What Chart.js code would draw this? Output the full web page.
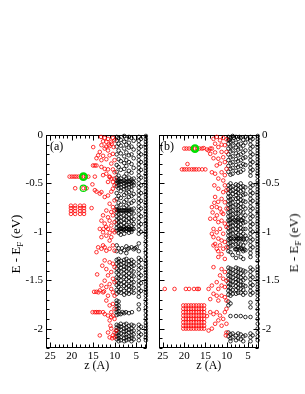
<!DOCTYPE html>
<html><head><meta charset="utf-8">
<script src="https://cdn.jsdelivr.net/npm/chart.js@4.4.1/dist/chart.umd.min.js"></script>
<style>
html,body{margin:0;padding:0;background:#fff;}
#wrap{position:relative;width:305px;height:394px;overflow:hidden;font-family:"Liberation Serif","Times New Roman",serif;color:#000;}
canvas{position:absolute;top:0;}
.yt{position:absolute;font-size:13px;line-height:14px;white-space:nowrap;transform:translate(-50%,-50%) rotate(-90deg);}
.yt sub{font-size:9px;vertical-align:-3px;line-height:0;}
.pl{position:absolute;font-size:12px;line-height:12px;}
</style></head><body>
<div id="wrap">
<canvas id="ca" width="153" height="394" style="left:0"></canvas>
<canvas id="cb" width="152" height="394" style="left:153px"></canvas>
<div class="yt" style="left:16px;top:244px">E - E<sub>F</sub> (eV)</div>
<div class="yt" style="left:294px;top:243px">E - E<sub>F</sub> (eV)</div>
<div class="pl" style="left:50px;top:140px">(a)</div>
<div class="pl" style="left:160px;top:140px">(b)</div>
</div>
<script>
// ---- tick labels ----
const xTickVals = [5, 10, 15, 20, 25];
const yTickVals = [0, -0.5, -1, -1.5, -2];
const yTickLabels = ['0', '-0.5', '-1', '-1.5', '-2'];

// ---- panel (a): black columns (layer z, energies) ----
const blackColZA = [9.55, 9.1, 8.6, 7.8, 7.3, 6.7, 6.1, 5.6, 4.4, 3.9, 2.75];
const blackColEA = [
 [-0.02,-0.06,-0.12,-0.2,-0.31,-0.38,-0.44,-0.47,-0.5,-0.53,-0.6,-0.66,-0.74,-0.77,-0.8,-0.84,-0.88,-0.92,-0.96,-0.99,-1.14,-1.2,-1.29,-1.33,-1.38,-1.42,-1.47,-1.51,-1.55,-1.6,-1.64,-1.71,-1.74,-1.77,-1.8,-1.83,-1.86,-1.96,-1.99,-2.02,-2.05,-2.08,-2.11],
 [-0.03,-0.09,-0.16,-0.25,-0.33,-0.42,-0.46,-0.49,-0.52,-0.55,-0.63,-0.7,-0.76,-0.78,-0.82,-0.86,-0.9,-0.94,-0.98,-1.01,-1.17,-1.28,-1.31,-1.35,-1.4,-1.44,-1.48,-1.53,-1.57,-1.62,-1.72,-1.76,-1.79,-1.82,-1.85,-1.97,-2.0,-2.04,-2.07,-2.1,-2.13],
 [-0.05,-0.11,-0.19,-0.27,-0.36,-0.45,-0.48,-0.51,-0.54,-0.58,-0.65,-0.72,-0.78,-0.81,-0.85,-0.89,-0.93,-0.97,-0.99,-1.03,-1.21,-1.3,-1.34,-1.37,-1.41,-1.46,-1.5,-1.54,-1.59,-1.63,-1.85,-1.95,-1.98,-2.01,-2.05,-2.09,-2.12],
 [-0.01,-0.07,-0.14,-0.22,-0.29,-0.35,-0.43,-0.47,-0.5,-0.53,-0.56,-0.62,-0.69,-0.75,-0.78,-0.83,-0.87,-0.91,-0.95,-0.98,-1.02,-1.19,-1.29,-1.32,-1.36,-1.39,-1.43,-1.47,-1.52,-1.56,-1.61,-1.65,-1.84,-1.96,-2.0,-2.03,-2.06,-2.1,-2.13],
 [-0.04,-0.1,-0.18,-0.26,-0.32,-0.4,-0.45,-0.49,-0.52,-0.55,-0.6,-0.67,-0.73,-0.78,-0.8,-0.84,-0.88,-0.93,-0.96,-0.99,-1.15,-1.22,-1.28,-1.33,-1.37,-1.41,-1.45,-1.49,-1.54,-1.58,-1.63,-1.95,-1.99,-2.02,-2.06,-2.09,-2.12],
 [-0.02,-0.08,-0.13,-0.21,-0.28,-0.37,-0.44,-0.48,-0.51,-0.54,-0.59,-0.64,-0.71,-0.76,-0.78,-0.82,-0.86,-0.9,-0.95,-0.98,-1.01,-1.17,-1.3,-1.34,-1.38,-1.43,-1.47,-1.51,-1.56,-1.6,-1.64,-1.84,-1.97,-2.01,-2.04,-2.08,-2.11],
 [-0.03,-0.12,-0.2,-0.3,-0.39,-0.46,-0.5,-0.53,-0.57,-0.63,-0.7,-0.77,-0.8,-0.85,-0.89,-0.94,-0.98,-1.0,-1.16,-1.29,-1.33,-1.36,-1.4,-1.45,-1.49,-1.53,-1.57,-1.62,-1.96,-2.0,-2.03,-2.07,-2.1,-2.13],
 [-0.06,-0.15,-0.24,-0.34,-0.45,-0.49,-0.52,-0.61,-0.68,-0.76,-0.81,-0.87,-0.92,-0.97,-1.18,-1.31,-1.35,-1.41,-1.46,-1.52,-1.58,-1.63,-1.97,-2.02,-2.06,-2.11],
 [-0.02,-0.06,-0.1,-0.14,-0.18,-0.22,-0.26,-0.3,-0.34,-0.38,-0.42,-0.46,-0.5,-0.54,-0.58,-0.62,-0.66,-0.7,-0.74,-0.78,-0.82,-0.86,-0.9,-0.94,-0.98,-1.02,-1.12,-1.2,-1.27,-1.31,-1.35,-1.39,-1.43,-1.47,-1.51,-1.55,-1.59,-1.63,-1.67,-1.75,-1.8,-1.96,-2.0,-2.04,-2.08,-2.12],
 [-0.04,-0.12,-0.2,-0.28,-0.36,-0.44,-0.52,-0.6,-0.68,-0.76,-0.84,-0.92,-1.0,-1.29,-1.37,-1.45,-1.53,-1.61,-1.98,-2.06],
 [-0.01,-0.04,-0.07,-0.1,-0.13,-0.16,-0.19,-0.22,-0.25,-0.28,-0.31,-0.34,-0.37,-0.4,-0.43,-0.46,-0.49,-0.52,-0.55,-0.58,-0.61,-0.64,-0.67,-0.7,-0.73,-0.76,-0.79,-0.82,-0.85,-0.88,-0.91,-0.94,-0.97,-1.0,-1.03,-1.06,-1.1,-1.14,-1.18,-1.22,-1.26,-1.3,-1.33,-1.36,-1.39,-1.42,-1.45,-1.48,-1.51,-1.54,-1.57,-1.6,-1.63,-1.66,-1.7,-1.74,-1.78,-1.82,-1.86,-1.9,-1.94,-1.97,-2.0,-2.03,-2.06,-2.09,-2.12]
];
const blackExtraA = [[9.3,-0.78],[8.9,-0.78],[8.3,-0.78],[8.0,-0.78],[7.5,-0.78],[7.0,-0.78],[6.5,-0.78],
 [8.8,-0.97],[8.3,-0.97],[7.9,-0.97],[7.5,-0.97],[7.1,-0.97],[6.6,-0.97],[6.3,-0.97],[5.9,-0.97],
 [9.3,-0.48],[8.8,-0.48],[8.2,-0.48],[7.5,-0.48],[7.0,-0.48],[6.4,-0.48],[5.9,-0.48],
 [8.2,-1.83],[7.4,-1.83],[6.0,-1.83],[8.3,-1.17],[7.0,-1.18],[5.3,-1.17],[4.9,-1.16]];

// ---- panel (a): red points [z, E] ----
const redA = [
 [12.34,-0.03],[11.57,-0.04],[10.43,-0.03],[10.05,-0.055],[10.81,-0.07],[11.96,-0.07],[12.72,-0.065],[13.1,-0.105],[11.19,-0.115],[10.27,-0.125],
 [12.34,-0.14],[11.57,-0.16],[13.48,-0.175],[13.86,-0.21],[12.72,-0.215],[11.19,-0.21],[10.43,-0.195],[11.96,-0.25],[13.1,-0.26],[14.25,-0.24],
 [10.05,-0.26],[15.01,-0.125],[10.81,-0.295],[14.63,-0.315],[14.25,-0.315],[15.05,-0.315],[13.1,-0.33],[12.34,-0.35],[11.57,-0.355],[10.43,-0.355],
 [10.05,-0.385],[11.96,-0.4],[12.72,-0.415],[11.19,-0.435],[10.81,-0.45],[10.05,-0.45],[10.43,-0.485],[11.57,-0.485],[13.2,-0.02],[10.7,-0.09],[11.4,-0.1],[12.0,-0.12],
 [20.51,-0.43],[19.97,-0.43],[19.44,-0.43],[18.98,-0.43],[18.44,-0.43],[17.91,-0.43],[17.3,-0.43],[16.69,-0.43],[16.15,-0.43],[14.63,-0.43],[11.19,-0.43],
 [19.21,-0.55],[17.3,-0.55],[16.54,-0.55],
 [14.63,-0.57],[13.1,-0.59],[14.25,-0.585],[13.48,-0.605],[12.34,-0.64],[11.57,-0.625],[10.81,-0.585],[10.43,-0.555],[10.05,-0.52],[15.2,-0.51],
 [20.2,-0.73],[19.21,-0.73],[18.06,-0.73],[17.15,-0.73],[20.2,-0.755],[19.21,-0.755],[18.06,-0.755],[17.15,-0.755],
 [20.2,-0.785],[19.21,-0.785],[18.06,-0.785],[17.15,-0.785],[20.2,-0.815],[19.21,-0.815],[18.06,-0.815],[17.15,-0.815],[15.39,-0.755],
 [10.05,-0.675],[11.19,-0.71],[10.43,-0.745],[11.96,-0.78],[10.81,-0.795],[10.05,-0.78],[12.72,-0.83],[11.57,-0.85],[10.43,-0.83],[13.1,-0.885],
 [11.19,-0.885],[10.05,-0.9],[12.34,-0.915],[10.81,-0.935],[13.48,-0.97],[11.57,-0.97],[10.43,-0.985],[12.72,-1.005],[11.19,-1.01],[10.05,-1.005],
 [11.96,-1.04],[13.1,-1.055],[10.81,-1.055],[11.19,-1.09],[12.0,-0.95],[12.6,-0.97],
 [13.86,-1.16],[13.1,-1.175],[12.34,-1.16],[11.96,-1.195],[11.19,-1.175],[10.43,-1.14],[10.05,-1.195],[14.25,-1.21],[12.72,-1.14],
 [12.34,-1.295],[11.19,-1.315],[10.43,-1.33],[10.05,-1.365],[11.96,-1.385],[10.81,-1.415],[11.57,-1.45],[10.43,-1.485],[10.05,-1.52],[12.34,-1.505],
 [11.19,-1.54],[13.1,-1.555],[11.96,-1.57],[10.81,-1.59],[10.43,-1.625],[12.72,-1.625],[11.57,-1.66],[10.05,-1.66],[13.48,-1.605],[14.1,-1.44],[12.9,-1.35],
 [14.8,-1.62],[14.3,-1.62],[13.8,-1.625],[12.5,-1.615],
 [11.96,-1.71],[11.19,-1.76],[10.43,-1.745],[10.05,-1.795],[10.81,-1.83],[15.16,-1.83],[14.63,-1.83],[14.25,-1.83],[13.86,-1.83],[13.48,-1.83],
 [12.72,-1.83],[12.34,-1.85],[11.57,-1.865],[10.43,-1.865],[10.05,-1.9],[11.19,-1.915],[10.81,-1.88],
 [11.57,-2.04],[10.81,-2.0],[10.43,-2.07],[10.05,-2.04],[9.67,-2.02],[11.19,-2.09],[13.48,-2.07],[10.05,-2.09],[10.6,-2.1],[11.0,-1.97]
];
const greenA = [[17.3,-0.43],[17.3,-0.55]];

// ---- panel (b): black columns ----
const blackColZB = [9.6, 9.1, 8.6, 7.8, 7.3, 6.7, 6.1, 5.6, 4.4, 3.9, 2.7];
const blackColEB = [
 [-0.02,-0.05,-0.09,-0.14,-0.2,-0.26,-0.32,-0.38,-0.52,-0.56,-0.6,-0.64,-0.68,-0.72,-0.76,-0.8,-0.84,-0.88,-0.92,-0.96,-1.0,-1.04,-1.08,-1.12,-1.16,-1.2,-1.37,-1.41,-1.45,-1.49,-1.53,-1.57,-1.61,-1.65,-1.72,-1.76,-2.04,-2.08],
 [-0.03,-0.07,-0.12,-0.17,-0.23,-0.29,-0.35,-0.41,-0.5,-0.54,-0.58,-0.63,-0.67,-0.71,-0.75,-0.79,-0.83,-0.87,-0.91,-0.95,-0.99,-1.03,-1.07,-1.11,-1.15,-1.21,-1.38,-1.42,-1.46,-1.5,-1.54,-1.58,-1.62,-1.66,-1.74,-1.87,-2.06,-2.1,-2.13],
 [-0.01,-0.06,-0.11,-0.16,-0.22,-0.28,-0.34,-0.4,-0.53,-0.57,-0.61,-0.66,-0.7,-0.74,-0.78,-0.82,-0.86,-0.9,-0.94,-0.98,-1.02,-1.1,-1.14,-1.24,-1.39,-1.43,-1.47,-1.51,-1.55,-1.6,-1.64,-2.05,-2.09],
 [-0.02,-0.08,-0.13,-0.19,-0.25,-0.31,-0.37,-0.51,-0.55,-0.59,-0.62,-0.66,-0.72,-0.77,-0.81,-0.85,-0.89,-0.93,-0.97,-1.01,-1.05,-1.09,-1.13,-1.18,-1.27,-1.37,-1.41,-1.45,-1.49,-1.52,-1.56,-1.6,-1.64,-1.87,-2.07,-2.12],
 [-0.04,-0.1,-0.15,-0.21,-0.27,-0.33,-0.39,-0.52,-0.56,-0.6,-0.65,-0.69,-0.73,-0.77,-0.81,-0.86,-0.9,-0.94,-0.98,-1.03,-1.07,-1.12,-1.16,-1.22,-1.38,-1.42,-1.46,-1.5,-1.54,-1.58,-1.63,-2.05,-2.1],
 [-0.03,-0.09,-0.14,-0.2,-0.26,-0.32,-0.38,-0.5,-0.54,-0.58,-0.63,-0.67,-0.71,-0.75,-0.79,-0.84,-0.88,-0.92,-0.96,-1.0,-1.04,-1.08,-1.13,-1.17,-1.26,-1.39,-1.43,-1.47,-1.51,-1.55,-1.59,-1.63,-1.87,-2.06,-2.11],
 [-0.05,-0.11,-0.18,-0.24,-0.3,-0.36,-0.53,-0.57,-0.62,-0.68,-0.74,-0.8,-0.86,-0.91,-0.97,-1.02,-1.08,-1.14,-1.2,-1.28,-1.4,-1.45,-1.5,-1.55,-1.6,-1.65,-2.08,-2.13],
 [-0.02,-0.08,-0.16,-0.23,-0.31,-0.54,-0.61,-0.69,-0.76,-0.83,-0.9,-0.97,-1.04,-1.11,-1.19,-1.41,-1.48,-1.56,-1.63,-1.88,-2.07],
 [-0.02,-0.06,-0.1,-0.14,-0.18,-0.22,-0.26,-0.3,-0.34,-0.38,-0.42,-0.5,-0.54,-0.58,-0.62,-0.66,-0.7,-0.74,-0.78,-0.82,-0.86,-0.9,-0.94,-0.98,-1.02,-1.06,-1.1,-1.14,-1.18,-1.22,-1.26,-1.37,-1.41,-1.45,-1.49,-1.53,-1.57,-1.61,-1.65,-1.73,-1.78,-1.88,-2.05,-2.09,-2.13],
 [-0.04,-0.12,-0.2,-0.28,-0.36,-0.52,-0.6,-0.68,-0.76,-0.84,-0.92,-1.0,-1.08,-1.16,-1.39,-1.47,-1.55,-1.63,-2.07],
 [-0.01,-0.04,-0.07,-0.1,-0.13,-0.16,-0.19,-0.22,-0.25,-0.28,-0.31,-0.34,-0.37,-0.4,-0.43,-0.47,-0.5,-0.53,-0.56,-0.59,-0.62,-0.65,-0.68,-0.71,-0.74,-0.77,-0.8,-0.83,-0.86,-0.89,-0.92,-0.95,-0.98,-1.01,-1.04,-1.07,-1.1,-1.13,-1.16,-1.19,-1.22,-1.25,-1.3,-1.36,-1.39,-1.42,-1.45,-1.48,-1.51,-1.54,-1.57,-1.6,-1.63,-1.66,-1.7,-1.75,-1.8,-1.85,-1.9,-1.95,-2.0,-2.04,-2.08,-2.12]
];
const blackExtraB = [[9.3,-1.07],[8.9,-1.07],[8.3,-1.07],[7.9,-1.07],[7.5,-1.07],[7.0,-1.07],[6.5,-1.07],[6.0,-1.07],[5.3,-1.07],
 [8.0,-1.18],[7.6,-1.18],[7.0,-1.18],[6.4,-1.18],[5.9,-1.18],[9.3,-0.88],[8.2,-0.88],[7.4,-0.88],[6.4,-0.88],
 [9.3,-0.05],[8.3,-0.03],[7.0,-0.02],[5.1,-0.04]];

// ---- panel (b): red points [z, E] ----
const redB = [
 [13.1,-0.04],[12.34,-0.02],[11.57,-0.055],[10.81,-0.03],[10.05,-0.045],[12.72,-0.09],[11.19,-0.1],[10.43,-0.105],[11.96,-0.125],[13.48,-0.14],
 [14.25,-0.16],[13.86,-0.195],[12.72,-0.18],[11.19,-0.175],[10.05,-0.175],[10.81,-0.23],[11.96,-0.245],[13.1,-0.24],[10.43,-0.28],[11.57,-0.295],
 [12.34,-0.315],[13.48,-0.385],[12.72,-0.4],[11.19,-0.385],[10.43,-0.415],[11.96,-0.45],[10.81,-0.47],[10.05,-0.35],
 [19.97,-0.14],[19.44,-0.14],[18.83,-0.14],[18.22,-0.14],[17.45,-0.14],[16.92,-0.14],[16.38,-0.14],[15.77,-0.14],[15.39,-0.135],[14.63,-0.15],[13.86,-0.14],
 [19.21,-0.3],
 [20.51,-0.355],[19.97,-0.355],[19.44,-0.355],[18.83,-0.355],[18.22,-0.355],[17.68,-0.355],[17.15,-0.355],[16.54,-0.355],[15.77,-0.355],[15.01,-0.355],
 [12.9,-0.52],[10.43,-0.52],[11.96,-0.555],[10.81,-0.59],[10.05,-0.57],[12.72,-0.64],[11.19,-0.66],[10.43,-0.695],[13.48,-0.745],[12.34,-0.745],
 [11.57,-0.76],[10.05,-0.76],[10.81,-0.815],[13.86,-0.865],[12.72,-0.865],[11.96,-0.9],[11.19,-0.885],[10.43,-0.915],[10.05,-0.95],[13.1,-0.97],
 [11.57,-0.97],[12.34,-1.005],[13.48,-1.02],[10.81,-1.02],[12.0,-0.69],[12.9,-0.7],[13.3,-0.8],[11.2,-0.8],[12.3,-0.83],
 [13.1,-1.055],[11.96,-1.07],[11.19,-1.09],[10.43,-1.105],[12.72,-1.125],[11.57,-1.14],[12.34,-1.175],[10.81,-1.175],[10.05,-1.16],[11.19,-1.23],
 [11.96,-1.26],[10.43,-1.28],[13.1,-1.14],[12.0,-1.2],
 [13.1,-1.365],[11.19,-1.385],[10.43,-1.415],[11.57,-1.45],[10.81,-1.485],[10.05,-1.505],[12.34,-1.52],[13.48,-1.555],[11.19,-1.555],[10.43,-1.57],[11.96,-1.59],
 [24.55,-1.59],[22.26,-1.59],[19.59,-1.59],[18.83,-1.59],[17.68,-1.59],[16.92,-1.59],[16.54,-1.59],[14.25,-1.59],
 [13.1,-1.64],[12.34,-1.66],[11.19,-1.66],[10.43,-1.675],[13.86,-1.695],[11.96,-1.71],[10.05,-1.71],
 [20.2,-1.76],[19.59,-1.76],[18.98,-1.76],[18.37,-1.76],[17.76,-1.76],[17.15,-1.76],[16.54,-1.76],[15.93,-1.76],[15.31,-1.76],
 [20.2,-1.795],[19.59,-1.795],[18.98,-1.795],[18.37,-1.795],[17.76,-1.795],[17.15,-1.795],[16.54,-1.795],[15.93,-1.795],[15.31,-1.795],
 [20.2,-1.83],[19.59,-1.83],[18.98,-1.83],[18.37,-1.83],[17.76,-1.83],[17.15,-1.83],[16.54,-1.83],[15.93,-1.83],[15.31,-1.83],
 [20.2,-1.865],[19.59,-1.865],[18.98,-1.865],[18.37,-1.865],[17.76,-1.865],[17.15,-1.865],[16.54,-1.865],[15.93,-1.865],[15.31,-1.865],
 [20.2,-1.9],[19.59,-1.9],[18.98,-1.9],[18.37,-1.9],[17.76,-1.9],[17.15,-1.9],[16.54,-1.9],[15.93,-1.9],[15.31,-1.9],
 [20.2,-1.935],[19.59,-1.935],[18.98,-1.935],[18.37,-1.935],[17.76,-1.935],[17.15,-1.935],[16.54,-1.935],[15.93,-1.935],[15.31,-1.935],
 [20.2,-1.97],[19.59,-1.97],[18.98,-1.97],[18.37,-1.97],[17.76,-1.97],[17.15,-1.97],[16.54,-1.97],[15.93,-1.97],[15.31,-1.97],
 [20.2,-2.0],[19.59,-2.0],[18.98,-2.0],[18.37,-2.0],[17.76,-2.0],[17.15,-2.0],[16.54,-2.0],[15.93,-2.0],[15.31,-2.0],
 [13.86,-1.83],[13.1,-1.85],[12.34,-1.83],[11.57,-1.865],[10.81,-1.9],[10.43,-1.83],[10.05,-1.795],[12.72,-1.95],[11.19,-1.97],[10.05,-1.95],
 [13.48,-2.0],[11.96,-1.915],[14.25,-2.02],[14.63,-1.87],[10.05,-2.04],[10.2,-2.07]
];
const greenB = [[17.45,-0.14]];

// ---- helpers ----
const F = '"Liberation Serif","Times New Roman",serif';
function pts(list){ return list.map(p => ({x:p[0], y:p[1]})); }
function cols(zs, es){ const out=[]; zs.forEach((z,i)=>es[i].forEach(e=>out.push({x:z,y:e}))); return out; }

const frame = {
  id:'frame',
  beforeDatasetsDraw(chart){
    const {ctx, chartArea:a, scales:{x, y}} = chart;
    ctx.save();
    ctx.strokeStyle = '#000'; ctx.lineWidth = 1;
    const L = Math.round(a.left)+0.5, R = Math.round(a.right)-0.5, T = Math.round(a.top)+0.5, B = Math.round(a.bottom)-0.5;
    ctx.strokeRect(L, T, R-L, B-T);
    ctx.beginPath();
    for (let i = 3; i <= 26; i++) {
      const len = (i % 5 === 0) ? 5 : 3;
      const px = Math.round(x.getPixelForValue(i)) + 0.5;
      ctx.moveTo(px, B); ctx.lineTo(px, B - len);
      ctx.moveTo(px, T); ctx.lineTo(px, T + len);
    }
    for (let i = 0; i <= 22; i++) {
      const v = -i / 10;
      const len = (i % 5 === 0) ? 5 : 3;
      const py = Math.round(y.getPixelForValue(v)) + 0.5;
      ctx.moveTo(L, py); ctx.lineTo(L + len, py);
      ctx.moveTo(R, py); ctx.lineTo(R - len, py);
    }
    ctx.stroke();
    ctx.restore();
  }
};

function makeChart(id, side, black, red, green, greenWidths){
  const clear = 'rgba(0,0,0,0)';
  return new Chart(document.getElementById(id), {
    type:'scatter',
    data:{datasets:[
      {data:green, order:0, pointRadius:3.2, pointBorderWidth:greenWidths, borderColor:'#00e000', backgroundColor:clear, clip:6},
      {data:red, order:1, pointRadius:1.8, pointBorderWidth:0.8, borderColor:'#ff0000', backgroundColor:clear, clip:6},
      {data:black, order:2, pointRadius:1.8, pointBorderWidth:0.8, borderColor:'#000000', backgroundColor:clear, clip:6}
    ]},
    options:{
      responsive:false, animation:false, devicePixelRatio:1,
      layout:{padding: side === 'left' ? {left:0, right:4, top:135, bottom:0} : {left:3, right:0, top:135, bottom:0}},
      plugins:{legend:{display:false}, tooltip:{enabled:false}},
      elements:{point:{hoverRadius:1.8}},
      scales:{
        x:{type:'linear', reverse:true, min:2.4, max:26, position:'bottom',
          afterBuildTicks: s => { s.ticks = xTickVals.map(v => ({value:v})); },
          afterFit: s => { s.height = 46; },
          grid:{display:false, drawTicks:false}, border:{display:false},
          ticks:{color:'#000', font:{family:F, size:11}, padding:2, maxRotation:0, autoSkip:false, callback: v => String(v)},
          title:{display:true, text:'z (A)', color:'#000', font:{family:F, size:12}, padding:{top:0, bottom:21}}},
        y:{type:'linear', min:-2.2, max:0, position:side,
          afterBuildTicks: s => { s.ticks = yTickVals.map(v => ({value:v})); },
          afterFit: s => { s.width = 46; },
          grid:{display:false, drawTicks:false}, border:{display:false},
          ticks:{color:'#000', font:{family:F, size:11}, padding:3, autoSkip:false, callback: (v, i) => yTickLabels[i]}}
      }
    },
    plugins:[frame]
  });
}

makeChart('ca', 'left', cols(blackColZA, blackColEA).concat(pts(blackExtraA)), pts(redA), pts(greenA), [2.4, 1.2]);
makeChart('cb', 'right', cols(blackColZB, blackColEB).concat(pts(blackExtraB)), pts(redB), pts(greenB), [2.4]);
</script>
</body></html>
